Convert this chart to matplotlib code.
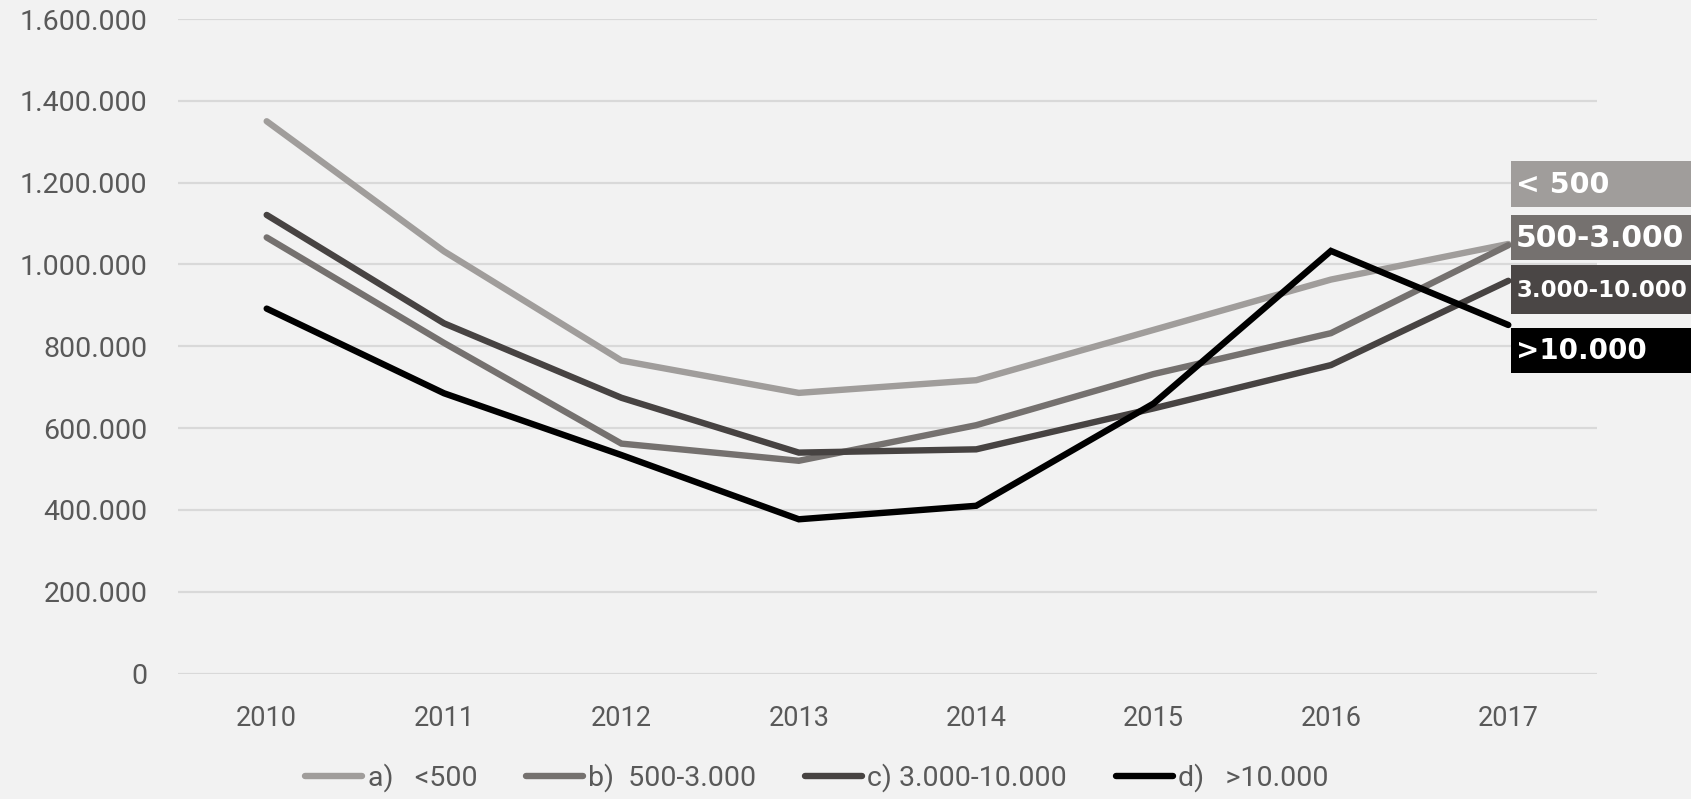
import matplotlib
matplotlib.use('Agg')
import matplotlib.pyplot as plt
from matplotlib.patches import Rectangle
from matplotlib.ticker import FuncFormatter

years = ['2010', '2011', '2012', '2013', '2014', '2015', '2016', '2017']
s_lt500 = [1350000, 1032000, 765000, 686000, 717000, 840000, 963000, 1050000]
s_500_3000 = [1066000, 808000, 562000, 520000, 607000, 732000, 832000, 1047000]
s_3000_10000 = [1121000, 856000, 674000, 540000, 548000, 648000, 754000, 960000]
s_gt10000 = [892000, 685000, 534000, 377000, 410000, 660000, 1033000, 852000]
legend_labels = ['a)   <500', 'b)  500-3.000', 'c) 3.000-10.000', 'd)   >10.000']
end_labels = ['< 500', '500-3.000', '3.000-10.000', '>10.000']
colors = ['#a09d9b', '#75716f', '#474342', '#000000']
y_ticks = [0, 200000, 400000, 600000, 800000, 1000000, 1200000, 1400000, 1600000]

W, H = 1691, 799
BG = '#f2f2f2'
TXT = '#595959'
fig = plt.figure(figsize=(W / 100, H / 100), dpi=100, facecolor=BG)
ax = fig.add_axes([178 / W, 1 - 673.5 / H, (1597 - 178) / W, (673.5 - 19) / H])
ax.set_facecolor(BG)

series = [s_lt500, s_500_3000, s_3000_10000, s_gt10000]
xs = list(range(len(years)))
for vals, c, lab in zip(series, colors, legend_labels):
    ax.plot(xs, vals, color=c, lw=4.6, solid_capstyle='round',
            solid_joinstyle='miter', label=lab, zorder=3)

ax.set_xlim(-0.5, len(years) - 0.5)
ax.set_ylim(0, 1600000)
ax.set_yticks(y_ticks)
ax.yaxis.set_major_formatter(FuncFormatter(lambda v, p: f'{int(v):,}'.replace(',', '.')))
ax.set_xticks(xs)
ax.set_xticklabels(years)
ax.grid(axis='y', color='#d9d9d9', lw=1.6)
ax.set_axisbelow(True)
for s in ax.spines.values():
    s.set_visible(False)
ax.tick_params(axis='both', length=0, labelcolor=TXT)
ax.tick_params(axis='y', pad=22, labelsize=20.5)
ax.tick_params(axis='x', pad=23, labelsize=19.5)
for t in ax.get_xticklabels() + ax.get_yticklabels():
    t.set_family('Roboto')

leg = fig.legend(loc='center left', bbox_to_anchor=(305 / W, 1 - 778 / H),
                 ncol=4, frameon=False, handlelength=2.0, handletextpad=0.2,
                 columnspacing=1.7, borderpad=0, borderaxespad=0,
                 prop={'family': 'Roboto', 'size': 20.5})
for t in leg.get_texts():
    t.set_color(TXT)

# end-of-line label boxes
boxes = [(161, 207), (215, 260), (265, 314), (328, 373)]
box_colors = ['#a09d9b', '#75716f', '#4a4645', '#000000']
sizes = [20.5, 21.5, 16.5, 20]
for (y0, y1), bc, lab, fs in zip(boxes, box_colors, end_labels, sizes):
    fig.patches.append(Rectangle((1511 / W, 1 - y1 / H), (W - 1511) / W, (y1 - y0) / H,
                                 transform=fig.transFigure, facecolor=bc,
                                 edgecolor='none', zorder=5))
    fig.text(1516 / W, 1 - ((y0 + y1) / 2 + 1) / H, lab, color='white', fontsize=fs,
             fontweight='bold', family='DejaVu Sans', va='center', ha='left', zorder=6)

fig.savefig('out.png', dpi=100, facecolor=BG)
